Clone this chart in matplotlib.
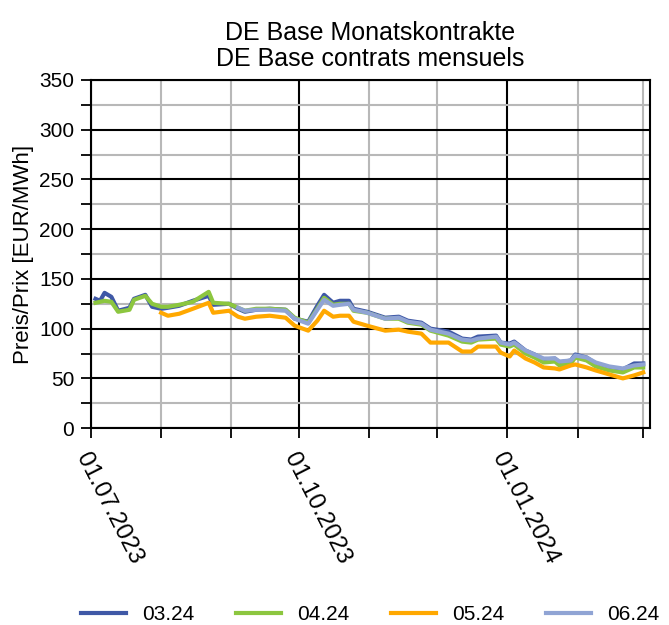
import matplotlib
matplotlib.use('Agg')
import matplotlib.pyplot as plt
import matplotlib.dates as mdates
import numpy as np
import pandas as pd

plt.rcParams['font.family'] = ['Liberation Sans', 'DejaVu Sans']

dates = ['2023-07-03', '2023-07-05', '2023-07-07', '2023-07-10', '2023-07-13', '2023-07-18',
         '2023-07-20', '2023-07-25', '2023-07-28', '2023-08-01', '2023-08-04', '2023-08-09',
         '2023-08-15', '2023-08-22', '2023-08-24', '2023-08-31', '2023-09-04', '2023-09-07',
         '2023-09-12', '2023-09-18', '2023-09-25', '2023-09-29', '2023-10-05', '2023-10-09',
         '2023-10-12', '2023-10-16', '2023-10-19', '2023-10-23', '2023-10-25', '2023-10-31',
         '2023-11-08', '2023-11-14', '2023-11-18', '2023-11-24', '2023-11-28', '2023-12-06',
         '2023-12-12', '2023-12-16', '2023-12-19', '2023-12-27', '2023-12-29', '2024-01-02',
         '2024-01-04', '2024-01-09', '2024-01-13', '2024-01-17', '2024-01-22', '2024-01-24',
         '2024-01-29', '2024-01-31', '2024-02-05', '2024-02-09', '2024-02-15', '2024-02-21',
         '2024-02-26', '2024-03-01']

m0324 = [130, 128, 136, 132, 118, 121, 130, 134, 122, 120, 121, 123, 128, 133, 124, 125, 120, 117,
         119, 120, 119, 110, 107, 123, 134, 126, 128, 128, 120, 117, 111, 112, 108, 106, 100, 97,
         90, 89, 92, 93, 86, 85, 87, 78, 74, 69, 70, 66, 68, 74, 71, 65, 61, 59, 65, 65]
m0424 = [126, 127, 128, 127, 117, 119, 129, 133, 125, 122, 122, 124, 127, 137, 126, 125, 121, 118,
         120, 120, 119, 111, 106, 120, 131, 124, 125, 125, 118, 116, 110, 110, 106, 104, 98, 93,
         87, 86, 89, 90, 84, 82, 84, 75, 71, 66, 67, 63, 65, 71, 68, 62, 58, 56, 61, 61]
m0524 = [None] * 9 + [116, 113, 115, 120, 126, 116, 118, 112, 110, 112, 113, 111, 103, 98, 108,
                      118, 112, 113, 113, 107, 103, 98, 99, 97, 95, 86, 86, 77, 77, 82, 82, 76,
                      72, 78, 70, 66, 61, 60, 59, 63, 64, 61, 58, 54, 50, 53, 56]
m0624 = [None] * 16 + [121, 118, 119, 119, 118, 110, 105, 119, 129, 123, 124, 125, 119, 116, 110,
                       111, 107, 105, 99, 95, 89, 88, 90, 92, 86, 84, 86, 78, 74, 70, 70, 67, 68,
                       73, 71, 66, 62, 60, 63, 64]

labels = ['03.24', '04.24', '05.24', '06.24']
colors = ['#3F58A6', '#8CC63F', '#FFA800', '#90A4D4']

x = pd.to_datetime(dates)
fig = plt.figure(figsize=(6.69, 6.25), dpi=100)
ax = fig.add_axes([0.136, 0.315, 0.8356, 0.557])

for vals, lab, col in zip([m0324, m0424, m0524, m0624], labels, colors):
    y = np.array([np.nan if v is None else v for v in vals], dtype=float)
    ax.plot(x, y, color=col, lw=3, label=lab, zorder=3)

ax.set_ylim(0, 350)
ax.set_xlim(pd.Timestamp('2023-07-01'), pd.Timestamp('2024-03-04'))
ax.set_yticks(np.arange(0, 351, 50))
ax.set_yticks(np.arange(25, 350, 50), minor=True)
ax.xaxis.set_major_locator(mdates.MonthLocator(bymonth=[1, 4, 7, 10]))
ax.xaxis.set_minor_locator(mdates.MonthLocator())
ax.xaxis.set_major_formatter(mdates.DateFormatter('%d.%m.%Y'))

ax.grid(which='major', color='black', lw=1.5, zorder=1)
ax.grid(which='minor', color='#b8b8b8', lw=1.5, zorder=0)
for s in ax.spines.values():
    s.set_color('black')
    s.set_linewidth(1.5)
ax.tick_params(which='both', direction='out', length=7, width=1.3)
ax.tick_params(axis='y', which='major', labelsize=15, pad=5)
ax.tick_params(axis='x', which='major', labelsize=17.5, pad=8)
for lbl in ax.get_xticklabels():
    lbl.set_rotation(-63)
    lbl.set_ha('left')
    lbl.set_va('top')
    lbl.set_rotation_mode('anchor')

ax.set_ylabel('Preis/Prix [EUR/MWh]', fontsize=16, labelpad=4)
ax.set_title('DE Base Monatskontrakte\nDE Base contrats mensuels', fontsize=18, pad=10, linespacing=1.1)

fig.legend(loc='center', bbox_to_anchor=(0.553, 0.017), ncol=4, frameon=False, fontsize=15,
           handlelength=2.16, columnspacing=2.0, handletextpad=0.77)

fig.savefig('out.png', dpi=100)
